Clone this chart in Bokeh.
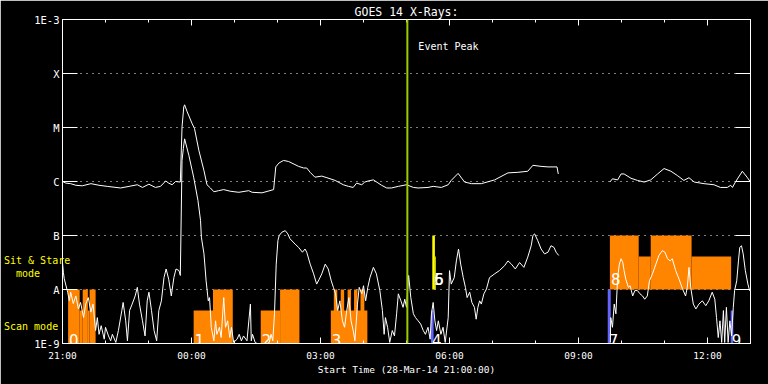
import numpy as np
from bokeh.plotting import figure
from bokeh.models import FixedTicker, LinearAxis, LogAxis, Range1d, Span, Label, ColumnDataSource
from bokeh.embed import file_html
from bokeh.resources import INLINE
from bokeh.core.properties import value

# ---------------- data ----------------
# time axis: hours after 28-Mar-14 21:00:00
x_tick_hours = [0, 3, 6, 9, 12, 15]
x_tick_labels = ["21:00", "00:00", "03:00", "06:00", "09:00", "12:00"]
x_minor_hours = list(range(0, 17))
y_tick_flux = [1e-9, 1e-8, 1e-7, 1e-6, 1e-5, 1e-4, 1e-3]
y_tick_labels = ["1E-9", "A", "B", "C", "M", "X", "1E-3"]
grid_flux = [1e-8, 1e-7, 1e-6, 1e-5, 1e-4]

event_peak_hour = 8.02

# long channel (1-8 A), log10 flux (W/m^2); None = data gap
long_hours = [0.00, 0.08, 0.19, 0.31, 0.46, 0.66, 0.85, 1.04, 1.35, 1.55, 1.74, 1.86, 2.01, 2.16,
              2.28, 2.40, 2.47, 2.55, 2.63, 2.74, 2.78, 2.82, 2.84, 2.90, 3.01, 3.07, 3.17, 3.29,
              3.36, 3.44, 3.52, 3.63, 3.75, 3.90, 4.10, 4.33, 4.41, 4.64, 4.91, 4.96, 5.03, 5.14,
              5.26, 5.49, 5.61, 5.68, 5.76, 5.87, 6.03, 6.15, 6.34, 6.53, 6.65, 6.76, 6.84, 6.96,
              7.03, 7.11, 7.23, 7.42, 7.54, 7.65, 7.81, 8.00, 8.16, 8.27, 8.50, 8.62, 8.81, 8.97,
              9.04, 9.20, 9.35, 9.51, 9.74, 10.05, 10.36, 10.59, 10.82, 10.94, 11.13, 11.29, 11.50,
              11.53, None,
              12.73, 12.79, 12.91, 12.99, 13.06, 13.22, 13.37, 13.53, 13.68, 13.84, 13.99, 14.15,
              14.30, 14.45, 14.57, 14.69, 14.92, 15.15, 15.30, 15.46, 15.54, 15.58, 15.65, 15.81,
              15.92, 16.00]
long_log10 = [-6.00, -6.03, -6.04, -6.07, -6.08, -6.04, -6.07, -6.09, -6.12, -6.09, -6.06, -6.11, -6.05, -6.11,
              -6.09, -5.99, -6.03, -6.06, -6.00, -6.01, -4.99, -4.62, -4.58, -4.71, -4.92, -5.02, -5.42, -5.80,
              -6.06, -6.12, -6.19, -6.17, -6.15, -6.18, -6.20, -6.17, -6.20, -6.21, -6.15, -5.73, -5.66, -5.61,
              -5.63, -5.72, -5.75, -5.75, -5.83, -5.92, -5.90, -5.93, -5.98, -6.06, -6.09, -6.11, -6.03, -6.06,
              -6.01, -5.99, -5.97, -6.07, -6.12, -6.12, -6.09, -6.06, -6.11, -6.12, -6.11, -6.09, -6.11, -6.06,
              -5.98, -5.85, -6.01, -6.04, -6.04, -5.97, -5.84, -5.83, -5.81, -5.70, -5.72, -5.73, -5.73,
              -5.86, None,
              -6.01, -5.95, -5.97, -5.86, -5.86, -5.94, -5.98, -6.01, -5.97, -5.86, -5.76, -5.81,
              -5.89, -5.98, -5.93, -6.01, -6.04, -6.06, -6.11, -6.11, -6.07, -6.11, -6.01, -5.81,
              -5.92, -6.01]

# short channel (0.5-4 A), log10 flux
short_hours = [0.00, 0.02, 0.04, 0.12, 0.16, 0.19, 0.25, 0.31, 0.37, 0.42, 0.49, 0.54, 0.60, 0.66, 0.71,
               0.77, 0.81, 0.85, 0.90, 0.97, 1.00, 1.07, 1.12, 1.16, 1.24, 1.30, 1.38, 1.41, 1.47, 1.51,
               1.56, 1.62, 1.69, 1.74, 1.79, 1.86, 1.92, 1.97, 2.01, 2.07, 2.13, 2.19, 2.24, 2.30, 2.36,
               2.41, 2.47, 2.53, 2.59, 2.64, 2.71, 2.74, 2.78, 2.81, 2.84, 2.94, 3.05, 3.15, 3.21, 3.23,
               3.29, 3.34, 3.39, 3.42, 3.46, 3.52, 3.56, 3.59, 3.65, 3.69, 3.75, 3.79, 3.84, 3.89, 3.93,
               3.98, 4.06, 4.11, 4.16, 4.21, 4.29, 4.37, 4.39, 4.42, 4.48, 4.64, 4.81, 4.85, 4.89, 4.93,
               4.97, 5.01, 5.04, 5.10, 5.18, 5.24, 5.29, 5.41, 5.49, 5.58, 5.64, 5.68, 5.76, 5.84, 5.91,
               5.97, 6.03, 6.11, 6.18, 6.25, 6.30, 6.35, 6.40, 6.45, 6.51, 6.56, 6.61, 6.66, 6.71, 6.76,
               6.80, 6.86, 6.90, 6.96, 7.00, 7.05, 7.10, 7.15, 7.23, 7.30, 7.38, 7.44, 7.48, 7.51, 7.56,
               7.61, 7.67, 7.72, 7.77, 7.81, 7.87, 7.92, 7.96, 8.00, 8.05, 8.10, 8.16, 8.21, 8.27, 8.33,
               8.39, 8.44, 8.50, 8.55, 8.58, 8.62, 8.66, 8.70, 8.74, 8.80, 8.85, 8.90, 8.97, 9.00, 9.04,
               9.11, 9.16, 9.21, 9.26, 9.32, 9.37, 9.41, 9.47, 9.52, 9.58, 9.62, 9.66, 9.70, 9.74, 9.80,
               9.86, 9.93, 10.05, 10.16, 10.28, 10.36, 10.44, 10.53, 10.63, 10.73, 10.82, 10.90, 10.94,
               10.98, 11.05, 11.13, 11.21, 11.29, 11.36, 11.43, 11.48, 11.54, None,
               12.74, 12.75, 12.79, 12.83, 12.87, 12.91, 12.95, 12.99, 13.03, 13.06, 13.10, 13.16, 13.20,
               13.26, 13.31, 13.37, 13.43, 13.49, 13.54, 13.60, 13.65, 13.72, 13.80, 13.87, 13.95, 14.01,
               14.07, 14.13, 14.18, 14.26, 14.34, 14.42, 14.49, 14.53, 14.57, 14.61, 14.67, 14.73, 14.80,
               14.88, 14.96, 15.03, 15.11, 15.17, 15.21, 15.25, 15.29, 15.33, 15.37, 15.40, 15.44, 15.48,
               15.52, 15.56, 15.60, 15.63, 15.68, 15.72, 15.75, 15.79, 15.83, 15.88, 15.94, 15.98, 16.00]
short_log10 = [-7.50, -7.68, -7.80, -8.05, -8.21, -8.05, -8.26, -8.12, -8.36, -8.24, -8.52, -8.27, -8.15, -8.42, -8.27,
               -8.76, -8.52, -8.83, -8.67, -8.92, -8.70, -8.86, -8.95, -8.83, -8.98, -8.76, -8.39, -8.24, -8.58, -8.95,
               -8.39, -8.27, -8.12, -7.96, -8.27, -8.58, -8.86, -8.21, -8.05, -8.39, -8.76, -8.95, -8.39, -8.21, -7.78,
               -7.62, -7.81, -8.12, -7.78, -7.62, -7.65, -7.74, -5.61, -5.39, -5.21, -5.52, -5.92, -6.35, -6.72, -7.03,
               -7.34, -7.84, -8.21, -8.15, -8.70, -8.95, -8.58, -8.83, -8.70, -8.89, -8.15, -8.70, -8.58, -8.89, -8.70,
               -8.98, -8.92, -8.83, -8.95, -8.86, -8.95, -8.27, -8.95, -8.83, -8.98, -9.05, -8.98, -8.83, -8.95, -8.45,
               -7.53, -7.09, -7.00, -6.94, -6.91, -6.97, -7.06, -7.16, -7.22, -7.31, -7.25, -7.31, -7.53, -7.71, -7.90,
               -7.81, -7.71, -7.53, -7.62, -7.84, -7.96, -8.08, -8.39, -8.21, -8.58, -8.70, -8.39, -8.15, -8.58, -8.76,
               -8.95, -8.27, -7.96, -8.08, -7.93, -8.21, -7.96, -7.78, -7.59, -7.71, -8.02, -8.39, -8.83, -8.52, -8.70,
               -8.98, -8.76, -8.86, -8.45, -8.08, -8.21, -8.33, -8.18, -8.33, -7.74, -8.15, -8.45, -8.52, -8.58, -8.64,
               -8.76, -8.83, -8.70, -8.92, -8.45, -8.24, -8.58, -8.76, -8.58, -8.83, -8.70, -8.98, -8.52, -7.65, -7.90,
               -7.78, -7.47, -7.25, -7.53, -7.78, -7.96, -8.15, -8.05, -8.24, -8.33, -8.55, -8.33, -8.21, -8.27, -8.08,
               -7.99, -7.78, -7.71, -7.65, -7.56, -7.47, -7.53, -7.62, -7.50, -7.59, -7.40, -7.19, -7.00,
               -6.97, -7.09, -7.25, -7.34, -7.31, -7.19, -7.22, -7.31, -7.37, None,
               -8.98, -8.52, -8.70, -8.27, -8.45, -7.78, -7.53, -7.43, -7.50, -7.65, -7.81, -7.96, -7.93,
               -8.12, -8.02, -8.02, -8.08, -8.12, -8.18, -8.12, -7.84, -7.71, -7.53, -7.37, -7.28, -7.31,
               -7.43, -7.47, -7.43, -7.65, -7.81, -7.99, -8.12, -7.96, -7.59, -7.96, -8.27, -8.36, -8.27,
               -8.21, -8.30, -8.21, -8.05, -8.18, -8.52, -8.89, -8.58, -8.98, -8.39, -8.98, -8.33, -8.98,
               -8.58, -8.86, -8.33, -8.02, -7.84, -7.47, -7.22, -7.19, -7.34, -7.65, -7.90, -8.02, -7.99]

# observation segments (start/end in hours, extent in flux)
obs_start = [0.13, 0.40, 0.47, 0.59, 0.63,
             3.05, 3.50,
             4.61, 5.06,
             6.24, 6.31, 6.47, 6.63, 6.78, 6.93,
             8.57, 8.60, 8.66,
             12.68,
             12.73, 13.40, 13.68, 14.63,
             15.54]
obs_end = [0.40, 0.47, 0.59, 0.63, 0.77,
           3.50, 3.96,
           5.06, 5.51,
           7.09, 6.39, 6.55, 6.71, 6.86, 7.02,
           8.63, 8.66, 8.68,
           12.75,
           13.40, 13.68, 14.63, 15.55,
           15.60]
obs_top = [1e-8, 4.1e-9, 1e-8, 4.1e-9, 1e-8,
           4.1e-9, 1e-8,
           4.1e-9, 1e-8,
           4.1e-9, 1e-8, 1e-8, 1e-8, 1e-8, 1e-8,
           4.1e-9, 1e-7, 4.1e-8,
           1e-8,
           1e-7, 4.1e-8, 1e-7, 4.1e-8,
           4.1e-9]
obs_bottom = [1e-9, 1e-9, 1e-9, 1e-9, 1e-9,
              1e-9, 1e-9,
              1e-9, 1e-9,
              1e-9, 1e-9, 1e-9, 1e-9, 1e-9, 1e-9,
              1e-9, 1e-8, 1e-8,
              1e-9,
              1e-8, 1e-8, 1e-8, 1e-8,
              1e-9]
obs_kind = ["long"] * 15 + ["short_scan", "short_sit", "short_sit", "short_scan",
                            "long", "long", "long", "long", "short_scan"]

# observation numbers
obs_label_text = ["0", "1", "2", "3", "4", "5", "6", "7", "8", "9"]
obs_label_hour = [0.13, 3.05, 4.61, 6.24, 8.57, 8.62, 8.62, 12.68, 12.73, 15.54]
obs_label_mode = ["scan", "scan", "scan", "scan", "scan", "sit", "sit", "scan", "sit", "scan"]

title_text = "GOES 14 X-Rays:"
x_title = "Start Time (28-Mar-14 21:00:00)"
mode_names = ["Sit & Stare", "mode", "Scan mode"]

# ---------------- styles ----------------
FONT = "DejaVu Sans Mono"
kind_color = {"long": "#ff8400", "short_scan": "#6464ff", "short_sit": "#ffff00"}

p = figure(width=768, height=384, x_range=Range1d(0, 16), y_range=Range1d(1e-9, 1e-3),
           y_axis_type="log", output_backend="svg", toolbar_location=None, title=None,
           background_fill_color="black", border_fill_color="black",
           min_border_left=60, min_border_right=18, min_border_top=19, min_border_bottom=41)
p.outline_line_color = "white"
p.xgrid.visible = False
p.ygrid.ticker = FixedTicker(ticks=grid_flux)
p.ygrid.grid_line_color = "white"
p.ygrid.grid_line_dash = "1 5"
p.ygrid.grid_line_width = 1

ax = p.xaxis[0]
ax.ticker = FixedTicker(ticks=x_tick_hours, minor_ticks=x_minor_hours)
ax.major_label_overrides = dict(zip(x_tick_hours, x_tick_labels))
ax.axis_label = x_title
ax.axis_line_color = "white"
ax.major_tick_line_color = "white"
ax.minor_tick_line_color = "white"
ax.major_tick_in = 6
ax.major_tick_out = 0
ax.minor_tick_in = 3
ax.minor_tick_out = 0
ax.major_label_text_color = "white"
ax.major_label_text_font = FONT
ax.major_label_text_font_size = "9.5px"
ax.major_label_standoff = 6
ax.axis_label_text_color = "white"
ax.axis_label_text_font = FONT
ax.axis_label_text_font_size = "9.5px"
ax.axis_label_text_font_style = "normal"
ax.axis_label_standoff = 0

# top axis: ticks only, carries the title as its label
top = LinearAxis(ticker=FixedTicker(ticks=x_tick_hours, minor_ticks=x_minor_hours),
                 axis_line_color="white", major_tick_line_color="white", minor_tick_line_color="white",
                 major_tick_in=6, major_tick_out=0, minor_tick_in=3, minor_tick_out=0,
                 major_label_overrides={t: "" for t in x_tick_hours},
                 major_label_text_font_size="1px", major_label_text_color=None, major_label_standoff=0,
                 axis_label=title_text, axis_label_text_color="white", axis_label_text_font=FONT,
                 axis_label_text_font_size="11.5px", axis_label_text_font_style="normal",
                 axis_label_standoff=1)
p.add_layout(top, "above")

# left axis: class labels in white, observing-mode names (yellow) as a horizontal axis label
NB = "\u00a0"
mode_block = ("\n" * 17 + mode_names[0] + "\n" + NB * 2 + mode_names[1] + NB * 5
              + "\n" * 4 + mode_names[2] + NB * 2)
ay = p.yaxis[0]
ay.ticker = FixedTicker(ticks=y_tick_flux)
ay.major_label_overrides = dict(zip(y_tick_flux, y_tick_labels))
ay.axis_line_color = "white"
ay.major_tick_line_color = "white"
ay.major_tick_in = 15
ay.major_tick_out = 0
ay.minor_tick_line_color = None
ay.major_label_text_color = "white"
ay.major_label_text_font = FONT
ay.major_label_text_font_size = "10.5px"
ay.major_label_standoff = 3
ay.axis_label = mode_block
ay.axis_label_orientation = "horizontal"
ay.axis_label_text_color = "#ffff00"
ay.axis_label_text_font = FONT
ay.axis_label_text_font_size = "10px"
ay.axis_label_text_font_style = "normal"
ay.axis_label_text_line_height = 1.2
ay.axis_label_standoff = -39

right = LogAxis(ticker=FixedTicker(ticks=y_tick_flux), axis_line_color="white",
                major_tick_line_color="white", major_tick_in=15, major_tick_out=0,
                minor_tick_line_color=None,
                major_label_overrides={t: "" for t in y_tick_flux},
                major_label_text_font_size="1px", major_label_text_color=None, major_label_standoff=0)
p.add_layout(right, "right")

# observation blocks
obs_src = ColumnDataSource(dict(left=obs_start, right=obs_end, top=obs_top, bottom=obs_bottom,
                                color=[kind_color[k] for k in obs_kind]))
p.quad(left="left", right="right", top="top", bottom="bottom", source=obs_src,
       fill_color="color", line_color=None)

# event peak
p.add_layout(Span(location=event_peak_hour, dimension="height", line_color="#9ccc00", line_width=2))

# curves
lh = np.array(long_hours, dtype=float)
lf = 10 ** np.array(long_log10, dtype=float)
sh = np.array(short_hours, dtype=float)
sf = 10 ** np.array(short_log10, dtype=float)
p.line(lh, lf, line_color="white", line_width=1)
p.line(sh, sf, line_color="white", line_width=1)

# observation numbers
scan_idx = [i for i, m in enumerate(obs_label_mode) if m == "scan"]
sit_idx = [i for i, m in enumerate(obs_label_mode) if m == "sit"]
p.text(x=[obs_label_hour[i] for i in scan_idx], y=[1e-9] * len(scan_idx),
       text=[obs_label_text[i] for i in scan_idx], text_font=value("DejaVu Sans"),
       text_font_size="15px", text_color="white",
       text_baseline="alphabetic", x_offset=1, y_offset=-4)
p.text(x=[obs_label_hour[i] for i in sit_idx], y=[1e-8] * len(sit_idx),
       text=[obs_label_text[i] for i in sit_idx], text_font=value("DejaVu Sans"),
       text_font_size="15px", text_color="white",
       text_baseline="alphabetic", x_offset=1, y_offset=-11)

p.add_layout(Label(x=event_peak_hour, y=1e-3, text="Event Peak", text_color="white", text_font=FONT,
                   text_font_size="10px", text_baseline="alphabetic", x_offset=11, y_offset=-27))

open("out.html", "w").write(file_html(p, INLINE))
